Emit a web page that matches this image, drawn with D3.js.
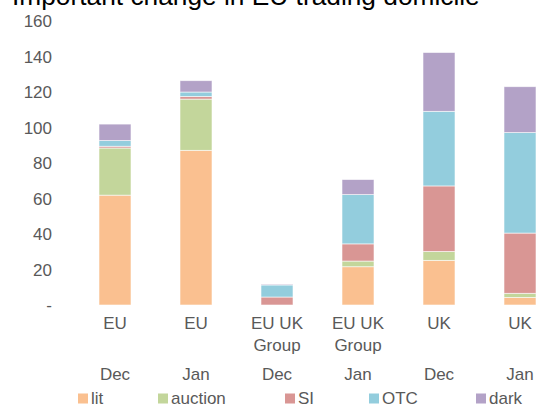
<!DOCTYPE html>
<html>
<head>
<meta charset="utf-8">
<script src="https://cdn.jsdelivr.net/npm/d3@7"></script>
<style>
  html, body { margin: 0; padding: 0; background: #fff; overflow: hidden; }
  svg { display: block; font-family: "Liberation Sans", Arial, sans-serif; }
</style>
</head>
<body>
<svg id="chart" width="547" height="407"></svg>
<script>
// ---- data ----
const title = "Important change in EU trading domicile";
const categories = ["EU Dec", "EU Jan", "EU UK Group Dec", "EU UK Group Jan", "UK Dec", "UK Jan"];
const labelLine1 = ["EU", "EU", "EU UK", "EU UK", "UK", "UK"];
const labelLine2 = ["", "", "Group", "Group", "", ""];
const labelLine3 = ["Dec", "Jan", "Dec", "Jan", "Dec", "Jan"];
const seriesNames = ["lit", "auction", "SI", "OTC", "dark"];
const lit     = [62.0, 87.3, 0.0, 21.6, 25.2, 4.3];
const auction = [26.6, 28.9, 0.0, 3.2, 5.0, 2.3];
const SI      = [1.0, 1.5, 4.5, 9.7, 37.0, 34.0];
const OTC     = [3.2, 2.5, 6.8, 27.8, 42.1, 56.7];
const dark    = [9.3, 6.4, 0.5, 8.5, 33.2, 25.9];
const yTicks  = [0, 20, 40, 60, 80, 100, 120, 140, 160];
const yTickLabels = ["-", "20", "40", "60", "80", "100", "120", "140", "160"];

// ---- styles / layout ----
const colors = ["#FAC090", "#C3D69B", "#D99694", "#93CDDD", "#B3A2C7"];
const legendX = [78, 158, 285, 369, 476];

const svg = d3.select("#chart");
const seriesVals = [lit, auction, SI, OTC, dark];
const rows = categories.map((c, i) => {
  const r = { cat: c };
  seriesNames.forEach((s, k) => r[s] = seriesVals[k][i]);
  return r;
});
const stacked = d3.stack().keys(seriesNames)(rows);

const x = d3.scaleBand().domain(categories).range([74.5, 560.5])
  .paddingInner(0.605).paddingOuter(0.3025);
const y = d3.scaleLinear().domain([0, 160]).range([305, 21.5]);

// title (partly cut off at top)
svg.append("text").attr("x", 12).attr("y", 5)
  .attr("font-size", 26.3).attr("fill", "#000").text(title);

// y axis (no line, no ticks)
const yAxis = d3.axisLeft(y).tickValues(yTicks)
  .tickFormat((d, i) => yTickLabels[i]).tickSize(0).tickPadding(0);
const gy = svg.append("g").attr("transform", "translate(52,0)").call(yAxis);
gy.select(".domain").remove();
gy.selectAll("text").attr("font-size", 17).attr("fill", "#595959")
  .attr("font-family", "Liberation Sans, Arial, sans-serif");

// bars
svg.append("g").selectAll("g").data(stacked).join("g")
  .attr("fill", (d, i) => colors[i])
  .selectAll("rect").data(d => d).join("rect")
  .attr("x", d => x(d.data.cat))
  .attr("width", x.bandwidth())
  .attr("y", d => y(d[1]))
  .attr("height", d => Math.max(0, y(d[0]) - y(d[1])))
  .attr("stroke", "#ffffff").attr("stroke-opacity", 0.7).attr("stroke-width", 0.8);

// x labels
const xl = svg.append("g").attr("fill", "#595959").attr("font-size", 17).attr("text-anchor", "middle");
categories.forEach((c, i) => {
  const cx = x(c) + x.bandwidth() / 2;
  xl.append("text").attr("x", cx).attr("y", 329).text(labelLine1[i]);
  if (labelLine2[i]) xl.append("text").attr("x", cx).attr("y", 351).text(labelLine2[i]);
  xl.append("text").attr("x", cx).attr("y", 380).text(labelLine3[i]);
});

// legend
const lg = svg.append("g");
seriesNames.forEach((s, i) => {
  lg.append("rect").attr("x", legendX[i]).attr("y", 393.5).attr("width", 10).attr("height", 10)
    .attr("fill", colors[i]);
  lg.append("text").attr("x", legendX[i] + 13).attr("y", 404)
    .attr("font-size", 17).attr("fill", "#595959").text(s);
});
</script>
</body>
</html>
